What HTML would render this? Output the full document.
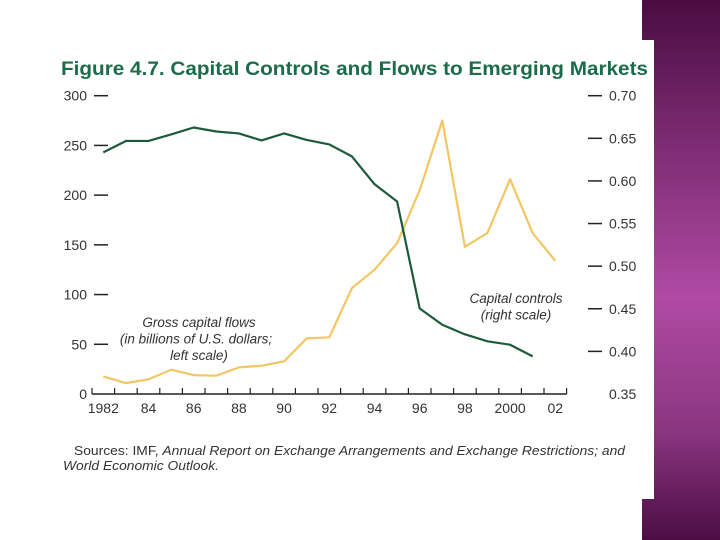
<!DOCTYPE html>
<html><head><meta charset="utf-8"><style>
html,body{margin:0;padding:0;width:720px;height:540px;overflow:hidden;background:#fff}
#bg{position:absolute;left:642px;top:0;width:78px;height:540px;background:linear-gradient(180deg,#4a0c42 0%,#7a2a70 25%,#b04aa4 55%,#8a3580 80%,#4c0d44 100%)}
#panel{position:absolute;left:0;top:40px;width:654px;height:459px;background:#fff}
svg{position:absolute;left:0;top:0}
text{font-family:"Liberation Sans",Arial,sans-serif;fill:#333}
</style></head><body>
<div id="bg"></div>
<div id="panel"></div>
<svg id="chart" width="720" height="540">
<text x="61" y="75" font-size="19" font-weight="bold" style="fill:#1c6b4a" textLength="587" lengthAdjust="spacingAndGlyphs">Figure 4.7.  Capital Controls and Flows to Emerging Markets</text>
<g id="axes"></g>
<g id="series"></g>
<text x="199" y="327" font-size="13.5" font-style="italic" text-anchor="middle"><tspan x="199">Gross capital flows</tspan><tspan x="196" dy="16.5">(in billions of U.S. dollars;</tspan><tspan x="199" dy="16.5">left scale)</tspan></text>
<text x="516" y="303" font-size="13.5" font-style="italic" text-anchor="middle"><tspan x="516">Capital controls</tspan><tspan x="516" dy="16.5">(right scale)</tspan></text>
<text x="74" y="455" font-size="13" textLength="551" lengthAdjust="spacingAndGlyphs">Sources: IMF, <tspan font-style="italic">Annual Report on Exchange Arrangements and Exchange Restrictions; and</tspan></text>
<text x="63" y="470" font-size="13" font-style="italic" textLength="156" lengthAdjust="spacingAndGlyphs">World Economic Outlook.</text>
</svg>
<script>
const years=[1982,1983,1984,1985,1986,1987,1988,1989,1990,1991,1992,1993,1994,1995,1996,1997,1998,1999,2000,2001,2002];
const flows=[17.7,11,14.7,24.4,19,18.4,26.8,28.5,32.8,56,57,106.5,125,151.7,205,275,148,162,216,161.7,134];
const controlYears=[1982,1983,1984,1985,1986,1987,1988,1989,1990,1991,1992,1993,1994,1995,1996,1997,1998,1999,2000,2001];
const controls=[0.6335,0.6469,0.6469,0.6545,0.6627,0.658,0.6557,0.6475,0.6557,0.6481,0.6428,0.6288,0.5962,0.5758,0.4503,0.4312,0.42,0.4118,0.4078,0.3941];
const leftTicks=[0,50,100,150,200,250,300];
const rightTicks=["0.35","0.40","0.45","0.50","0.55","0.60","0.65","0.70"];
const xLabels=["1982","84","86","88","90","92","94","96","98","2000","02"];
const xLabelYears=[1982,1984,1986,1988,1990,1992,1994,1996,1998,2000,2002];

const NS="http://www.w3.org/2000/svg";
const Y0=394,YT=95.7;
const x=yr=>103.3+(yr-1982)*22.6;
const yL=v=>Y0-(v/300)*(Y0-YT);
const yR=v=>Y0-((v-0.35)/0.35)*(Y0-YT);
function mk(t,a,p){const e=document.createElementNS(NS,t);for(const k in a)e.setAttribute(k,a[k]);p.appendChild(e);return e;}
const ax=document.getElementById('axes'),se=document.getElementById('series');

leftTicks.forEach(v=>{
  const t=mk('text',{x:87,y:yL(v)+5,'font-size':14,'text-anchor':'end'},ax);t.textContent=v;
  
  
  if(v>0){const l=mk('line',{x1:94,x2:108,y1:yL(v),y2:yL(v),stroke:'#222','stroke-width':1.5},ax);
  
  }
});
rightTicks.forEach(s=>{
  const v=parseFloat(s);
  const t=mk('text',{x:609,y:yR(v)+5,'font-size':14},ax);t.textContent=s;
  
  
  if(v>0.36){const l=mk('line',{x1:588,x2:602,y1:yR(v),y2:yR(v),stroke:'#222','stroke-width':1.5},ax);
  
  }
});
const base=mk('line',{x1:x(1982)-11.3,x2:x(2002)+11.3,y1:Y0,y2:Y0,stroke:'#222','stroke-width':1.5},ax);


for(let i=0;i<=21;i++){const xx=x(1982)-11.3+i*22.6;
  const l=mk('line',{x1:xx,x2:xx,y1:Y0,y2:Y0-6,stroke:'#222','stroke-width':1.2},ax);
  
  }
xLabels.forEach((s,i)=>{const t=mk('text',{x:x(xLabelYears[i]),y:Y0+19,'font-size':14,'text-anchor':'middle'},ax);t.textContent=s;
  
  });

const p1=mk('polyline',{points:years.map((yr,i)=>x(yr)+','+yL(flows[i])).join(' '),fill:'none',stroke:'#f3c663','stroke-width':2.2,'stroke-linejoin':'round'},se);


const p2=mk('polyline',{points:controlYears.map((yr,i)=>x(yr)+','+yR(controls[i])).join(' '),fill:'none',stroke:'#1d5a3a','stroke-width':2.2,'stroke-linejoin':'round'},se);


</script>
</body></html>
